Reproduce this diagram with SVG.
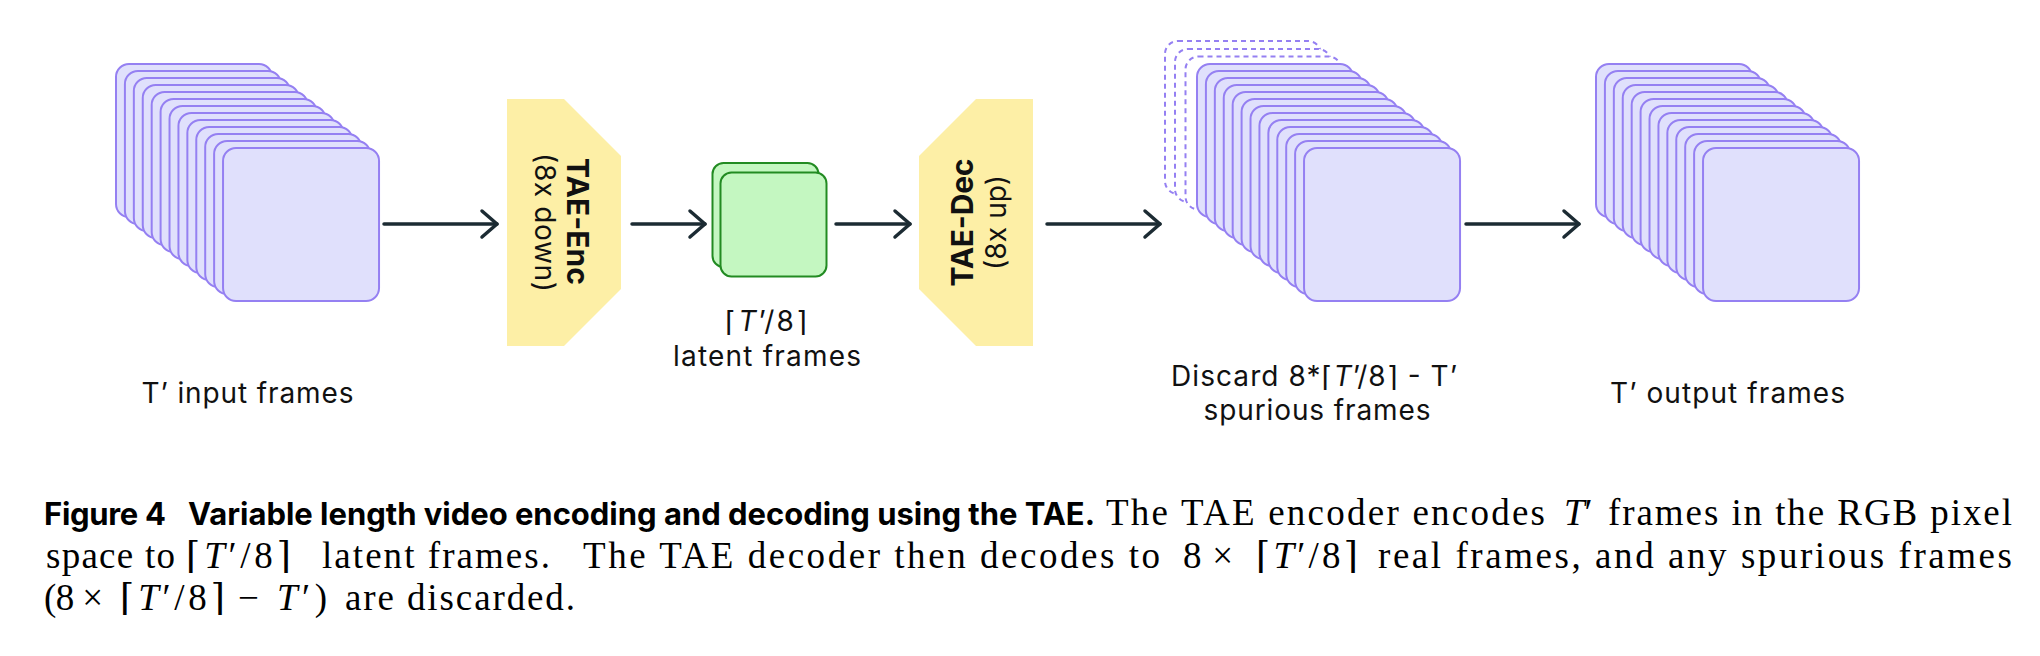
<svg xmlns="http://www.w3.org/2000/svg" xmlns:xlink="http://www.w3.org/1999/xlink" width="2040" height="656" viewBox="0 0 2040 656">
<style>
.fr{fill:#e0e0fc;stroke:#9580f2;stroke-width:2}
.dfr{fill:#ffffff;stroke:#9580f2;stroke-width:2;stroke-dasharray:5 4}
.lat{fill:#c4f7c1;stroke:#228b22;stroke-width:2}
.blk{fill:#fdefa6}
.conn{stroke:#1c2b33;stroke-width:3.5;fill:none;stroke-linecap:round}
.lbl{font-family:Inter,"Liberation Sans","DejaVu Sans",sans-serif;font-size:28px;fill:#111111}
.blab{font-family:Inter,"Liberation Sans","DejaVu Sans",sans-serif;font-size:30px;font-weight:bold;fill:#111111}
.capb{font-family:Inter,"Liberation Sans","DejaVu Sans",sans-serif;font-size:31px;font-weight:bold;fill:#000000}
.caps{font-family:"Liberation Serif","DejaVu Serif",serif;font-size:37px;fill:#000000}
.it{font-style:italic}
</style>
<defs>
<marker id="ah" viewBox="-20 -17 24 34" refX="0" refY="0" markerWidth="24" markerHeight="34" markerUnits="userSpaceOnUse" orient="auto">
<path d="M-15,-13 L0,0 L-15,13" fill="none" stroke="#1c2b33" stroke-width="3.5" stroke-linecap="round" stroke-linejoin="round"/>
</marker>
<g id="stackShape">
<rect class="fr" x="0" y="0" width="156" height="153" rx="13"/>
<rect class="fr" x="8.92" y="7" width="156" height="153" rx="13"/>
<rect class="fr" x="17.84" y="14" width="156" height="153" rx="13"/>
<rect class="fr" x="26.76" y="21" width="156" height="153" rx="13"/>
<rect class="fr" x="35.68" y="28" width="156" height="153" rx="13"/>
<rect class="fr" x="44.6" y="35" width="156" height="153" rx="13"/>
<rect class="fr" x="53.52" y="42" width="156" height="153" rx="13"/>
<rect class="fr" x="62.44" y="49" width="156" height="153" rx="13"/>
<rect class="fr" x="71.36" y="56" width="156" height="153" rx="13"/>
<rect class="fr" x="80.28" y="63" width="156" height="153" rx="13"/>
<rect class="fr" x="89.2" y="70" width="156" height="153" rx="13"/>
<rect class="fr" x="98.12" y="77" width="156" height="153" rx="13"/>
<rect class="fr" x="107.04" y="84" width="156" height="153" rx="13"/>
</g>
</defs>
<rect x="0" y="0" width="2040" height="656" fill="#ffffff"/>

<g id="input-frames">
<use href="#stackShape" xlink:href="#stackShape" x="116" y="64"/>
<text class="lbl" x="247.5" y="403" text-anchor="middle" textLength="212" lengthAdjust="spacing">T’ input frames</text>
</g>

<g id="tae-enc">
<polygon class="blk" points="507,99 564,99 621,156 621,289 564,346 507,346"/>
<text class="blab" transform="translate(567,221.5) rotate(90)" text-anchor="middle" textLength="127" lengthAdjust="spacing">TAE-Enc</text>
<text class="lbl" transform="translate(535,222.5) rotate(90)" text-anchor="middle" textLength="139" lengthAdjust="spacing">(8x down)</text>
</g>

<g id="latent-frames">
<rect class="lat" x="712.5" y="163" width="106" height="104" rx="11"/>
<rect class="lat" x="720.5" y="172.5" width="106" height="104" rx="11"/>
<text class="lbl" x="766" y="331" text-anchor="middle" textLength="82" lengthAdjust="spacing">⌈<tspan class="it">T</tspan>’/8⌉</text>
<text class="lbl" x="767" y="366" text-anchor="middle" textLength="188" lengthAdjust="spacing">latent frames</text>
</g>

<g id="tae-dec">
<polygon class="blk" points="976,99 1033,99 1033,346 976,346 919,289 919,156"/>
<text class="blab" transform="translate(973,222.5) rotate(-90)" text-anchor="middle" textLength="128" lengthAdjust="spacing">TAE-Dec</text>
<text class="lbl" transform="translate(1005.5,222.5) rotate(-90)" text-anchor="middle" textLength="95" lengthAdjust="spacing">(8x up)</text>
</g>

<g id="decoded-frames">
<rect class="dfr" x="1165" y="41" width="156" height="153" rx="13"/>
<rect class="dfr" x="1175" y="49" width="156" height="153" rx="13"/>
<rect class="dfr" x="1185.5" y="56.5" width="156" height="153" rx="13"/>
<use href="#stackShape" xlink:href="#stackShape" x="1197" y="64"/>
<text class="lbl" x="1314" y="385.5" text-anchor="middle" textLength="286" lengthAdjust="spacing">Discard 8*⌈<tspan class="it">T</tspan>’/8⌉ - T’</text>
<text class="lbl" x="1317" y="420" text-anchor="middle" textLength="227" lengthAdjust="spacing">spurious frames</text>
</g>

<g id="output-frames">
<use href="#stackShape" xlink:href="#stackShape" x="1596" y="64"/>
<text class="lbl" x="1727.5" y="402.7" text-anchor="middle" textLength="235" lengthAdjust="spacing">T’ output frames</text>
</g>

<g id="connectors">
<line class="conn" x1="384" y1="224" x2="497" y2="224" marker-end="url(#ah)"/>
<line class="conn" x1="632" y1="224" x2="705" y2="224" marker-end="url(#ah)"/>
<line class="conn" x1="836" y1="224" x2="910" y2="224" marker-end="url(#ah)"/>
<line class="conn" x1="1047" y1="224" x2="1160" y2="224" marker-end="url(#ah)"/>
<line class="conn" x1="1466" y1="224" x2="1579" y2="224" marker-end="url(#ah)"/>
</g>

<g id="caption">
<text class="capb" x="44" y="525" textLength="122" lengthAdjust="spacing">Figure 4</text>
<text class="capb" x="188" y="525" textLength="907" lengthAdjust="spacing">Variable length video encoding and decoding using the TAE.</text>
<text class="caps" x="1106" y="525" textLength="439" lengthAdjust="spacing">The TAE encoder encodes</text>
<text class="caps" x="1564" y="525"><tspan class="it">T</tspan>′</text>
<text class="caps" x="1608" y="525" textLength="404" lengthAdjust="spacing">frames in the RGB pixel</text>

<text class="caps" x="46" y="567.5" textLength="129" lengthAdjust="spacing">space to</text>
<text class="caps" x="186" y="567.5" textLength="105" lengthAdjust="spacing">⌈<tspan class="it">T</tspan>′/8⌉</text>
<text class="caps" x="322" y="567.5" textLength="228" lengthAdjust="spacing">latent frames.</text>
<text class="caps" x="583" y="567.5" textLength="577" lengthAdjust="spacing">The TAE decoder then decodes to</text>
<text class="caps" x="1183" y="567.5" textLength="50" lengthAdjust="spacing">8 ×</text>
<text class="caps" x="1256" y="567.5" textLength="102" lengthAdjust="spacing">⌈<tspan class="it">T</tspan>′/8⌉</text>
<text class="caps" x="1378" y="567.5" textLength="634" lengthAdjust="spacing">real frames, and any spurious frames</text>

<text class="caps" x="44" y="610" textLength="59" lengthAdjust="spacing">(8 ×</text>
<text class="caps" x="120" y="610" textLength="105" lengthAdjust="spacing">⌈<tspan class="it">T</tspan>′/8⌉</text>
<text class="caps" x="238" y="610" textLength="89" lengthAdjust="spacing">− <tspan class="it">T</tspan>′)</text>
<text class="caps" x="345" y="610" textLength="230" lengthAdjust="spacing">are discarded.</text>
</g>
</svg>
